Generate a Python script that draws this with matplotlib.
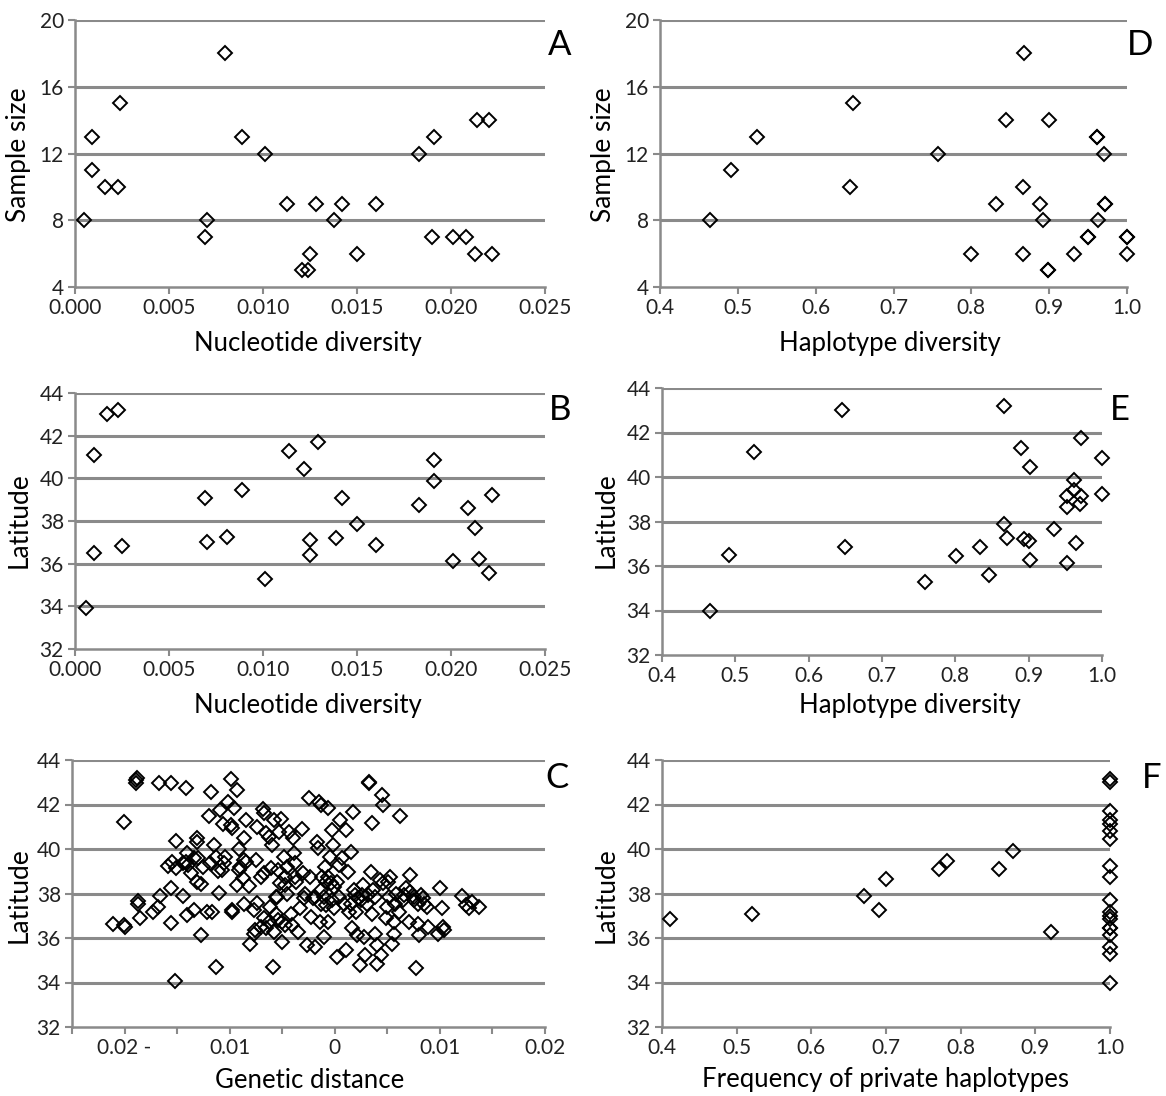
import numpy as np
import matplotlib
matplotlib.use("Agg")
import matplotlib.pyplot as plt
from matplotlib.ticker import FixedLocator, FuncFormatter

plt.rcParams['font.family'] = ['Lato', 'DejaVu Sans']

# --- A / B : nucleotide diversity ---
nd_a = [0.0005, 0.0009, 0.0009, 0.0016, 0.0023, 0.0024, 0.0069, 0.0070, 0.0080, 0.0089,
        0.0101, 0.0113, 0.0121, 0.0124, 0.0125, 0.0128, 0.0138, 0.0142, 0.0150, 0.0160,
        0.0183, 0.0190, 0.0191, 0.0201, 0.0208, 0.0213, 0.0214, 0.0220, 0.0222]
size_a = [8, 13, 11, 10, 10, 15, 7, 8, 18, 13, 12, 9, 5, 5, 6, 9, 8, 9, 6, 9,
          12, 7, 13, 7, 7, 6, 14, 14, 6]

nd_b = [0.0006, 0.0010, 0.0010, 0.0017, 0.0023, 0.0025, 0.0069, 0.0070, 0.0081, 0.0089,
        0.0101, 0.0114, 0.0122, 0.0125, 0.0125, 0.0129, 0.0139, 0.0142, 0.0150, 0.0160,
        0.0183, 0.0191, 0.0191, 0.0201, 0.0209, 0.0213, 0.0215, 0.0220, 0.0222]
lat_b = [33.94, 41.10, 36.50, 43.00, 43.20, 36.85, 39.10, 37.00, 37.27, 39.46,
         35.27, 41.30, 40.44, 37.10, 36.40, 41.72, 37.20, 39.07, 37.87, 36.88,
         38.77, 40.84, 39.86, 36.12, 38.61, 37.68, 36.23, 35.57, 39.20]

# --- D / E : haplotype diversity ---
hd_d = [0.464, 0.491, 0.525, 0.644, 0.648, 0.757, 0.799, 0.832, 0.845, 0.866,
        0.866, 0.868, 0.888, 0.892, 0.899, 0.899, 0.900, 0.932, 0.950, 0.950,
        0.961, 0.961, 0.963, 0.970, 0.972, 0.972, 1.000, 1.000, 1.000]
size_d = [8, 11, 13, 10, 15, 12, 6, 9, 14, 10, 6, 18, 9, 8, 5, 5, 14, 6, 7, 7,
          13, 13, 8, 12, 9, 9, 7, 7, 6]

hd_e = [0.465, 0.492, 0.526, 0.645, 0.649, 0.758, 0.801, 0.833, 0.846, 0.866,
        0.866, 0.870, 0.890, 0.893, 0.901, 0.902, 0.902, 0.934, 0.952, 0.952,
        0.952, 0.962, 0.962, 0.965, 0.970, 0.972, 0.972, 1.000, 1.000]
lat_e = [33.97, 36.48, 41.14, 42.99, 36.86, 35.28, 36.45, 36.87, 35.58, 43.17,
         37.91, 37.28, 41.31, 37.23, 37.13, 40.47, 36.26, 37.68, 39.13, 38.63,
         36.15, 39.88, 39.43, 37.05, 38.78, 39.13, 41.74, 40.84, 39.23]

# --- F : frequency of private haplotypes ---
priv_f = [0.411, 0.521, 0.670, 0.691, 0.700, 0.771, 0.782, 0.851, 0.870, 0.921,
          1.0, 1.0, 1.0, 1.0, 1.0, 1.0, 1.0, 1.0, 1.0, 1.0,
          1.0, 1.0, 1.0, 1.0, 1.0, 1.0, 1.0, 1.0, 1.0]
lat_f = [36.86, 37.07, 37.91, 37.28, 38.63, 39.11, 39.44, 39.12, 39.89, 36.26,
         43.16, 43.01, 41.72, 41.30, 41.14, 40.82, 40.46, 39.25, 38.75, 37.70,
         37.19, 37.00, 36.47, 36.45, 36.14, 35.60, 35.29, 36.87, 33.97]

# --- C : genetic distance (x 10^-3) vs latitude, pairwise ---
gd_c = [-21.1, -20.1, -20.0, -20.1, -18.8, -18.9, -18.7, -18.7, -18.5, -17.3,
        -16.8, -16.6, -16.7, -15.6, -15.6, -15.6, -15.9, -15.5, -15.2, -15.1,
        -14.4, -14.2, -14.2, -14.4, -14.1, -14.0, -13.7, -13.4, -13.1, -13.1,
        -13.1, -13.0, -12.7, -12.7, -12.5, -12.2, -12.0, -11.9, -11.8, -11.7,
        -11.5, -11.3, -11.3, -11.1, -11.0, -10.9, -10.6, -10.4, -10.2, -9.9,
        -9.9, -9.8, -9.8, -9.6, -9.3, -9.3, -9.1, -9.0, -8.7, -8.6,
        -8.6, -8.4, -8.4, -8.2, -8.1, -7.7, -7.7, -7.6, -7.5, -7.4,
        -7.4, -6.8, -6.7, -6.7, -6.7, -6.5, -6.5, -6.3, -6.2, -6.1,
        -6.0, -5.9, -5.8, -5.8, -5.6, -5.5, -5.4, -5.3, -5.2, -5.1,
        -5.0, -5.0, -4.8, -4.7, -4.5, -4.4, -4.2, -4.1, -4.0, -3.9,
        -3.8, -3.7, -3.5, -3.3, -3.1, -3.0, -2.8, -2.6, -2.5, -2.4,
        -2.3, -2.1, -1.9, -1.7, -1.6, -1.5, -1.4, -1.3, -1.3, -1.2,
        -1.0, -0.9, -0.8, -0.6, -0.6, -0.5, -0.4, -0.3, -0.2, -0.1,
        0.2, 0.4, 0.4, 0.5, 0.7, 0.9, 1.1, 1.1, 1.3, 1.4,
        1.5, 1.6, 1.7, 1.8, 1.9, 2.1, 2.4, 2.5, 2.7, 2.8,
        2.9, 3.2, 3.3, 3.4, 3.5, 3.5, 3.8, 4.0, 4.0, 4.3,
        4.4, 4.5, 4.6, 4.9, 5.0, 5.2, 5.3, 5.4, 5.6, 5.6,
        5.8, 6.1, 6.2, 6.5, 6.8, 7.1, 7.2, 7.5, 7.7, 7.9,
        8.0, 8.2, 8.5, 8.8, 8.9, 9.8, 10.0, 10.2, 10.3, 10.4,
        12.1, 12.5, 12.8, 13.1, 13.7,
        2.2, 2.6, 3.6, 3.8, 3.1, -0.6, -0.8, -0.1, 0.2, -1.3,
        -1.9, -1.0, -0.3, 7.9, 8.4, 7.2, 5.1, 5.7, -8.6, -9.1,
        -10.5, -15.1, -13.4, -5.4, -4.5, -7.0, -5.6, -6.3, -4.7, -7.0,
        -10.7, -14.1, -2.9, 1.5, 2.0, 6.6, 4.6, 7.5, -4.7, -3.8,
        3.3, -18.9, -9.8]
lat_c = [36.65, 36.58, 36.50, 41.23, 43.17, 42.95, 37.67, 37.55, 36.88, 37.18,
         37.40, 37.88, 42.95, 42.95, 36.68, 38.23, 39.23, 39.43, 34.07, 40.37,
         39.35, 39.43, 42.73, 37.88, 37.03, 39.28, 38.90, 37.25, 40.48, 40.33,
         38.53, 39.58, 38.42, 36.13, 39.20, 37.18, 41.48, 39.35, 42.58, 37.18,
         40.18, 39.65, 34.70, 39.00, 38.03, 41.75, 41.12, 39.65, 42.13, 43.13,
         41.08, 37.28, 37.18, 41.83, 42.65, 38.38, 39.98, 39.20, 38.68, 37.55,
         40.48, 41.30, 39.43, 38.33, 35.75, 36.20, 37.25, 36.35, 39.50, 40.97,
         37.58, 41.80, 41.63, 38.90, 36.88, 36.43, 40.70, 40.55, 37.40, 39.13,
         40.18, 34.70, 41.30, 36.28, 37.10, 37.85, 36.80, 40.78, 38.45, 41.33,
         35.83, 36.73, 39.65, 38.75, 38.00, 40.78, 37.10, 36.58, 40.48, 39.80,
         39.35, 38.53, 36.28, 37.33, 40.88, 38.90, 38.00, 35.68, 42.28, 38.75,
         36.95, 37.78, 35.60, 40.33, 40.03, 42.13, 36.73, 38.15, 41.98, 38.75,
         36.05, 39.20, 37.48, 36.73, 41.83, 39.65, 38.45, 40.85, 40.18, 37.33,
         35.15, 37.85, 39.28, 41.30, 39.58, 37.55, 35.45, 40.85, 38.98, 37.18,
         39.88, 36.43, 41.68, 38.15, 37.93, 36.13, 34.78, 37.70, 38.38, 36.05,
         35.23, 37.93, 42.95, 38.98, 41.15, 37.10, 36.20, 35.68, 34.85, 38.60,
         35.23, 42.43, 41.98, 36.88, 37.40, 37.85, 38.75, 35.75, 36.73, 36.20,
         38.00, 37.18, 41.48, 37.70, 38.23, 36.73, 38.83, 37.85, 34.63, 36.65,
         36.13, 37.93, 37.55, 37.40, 36.50, 36.20, 38.23, 37.33, 36.50, 36.38,
         37.88, 37.48, 37.33, 37.63, 37.40,
         37.78, 37.93, 38.15, 37.85, 37.55, 38.75, 38.53, 38.30, 38.53, 37.55,
         37.85, 37.85, 37.70, 37.55, 37.78, 38.08, 38.53, 37.55, 39.50, 39.05,
         39.38, 39.13, 39.58, 39.05, 39.20, 38.75, 37.85, 36.73, 36.58, 36.50,
         39.05, 39.80, 37.78, 37.55, 37.18, 37.93, 38.45, 37.70, 38.38, 38.75,
         43.00, 43.10, 40.95]

W, H = 1166, 1096
fig = plt.figure(figsize=(W / 100, H / 100), dpi=100)
GRID = '#8a8a8a'


def add_panel(left, top, right, bottom):
    return fig.add_axes([left / W, 1 - bottom / H, (right - left) / W, (bottom - top) / H])


def style(ax, xlim, xticks, xfmt, ylim, yticks):
    ax.set_xlim(*xlim)
    ax.set_ylim(*ylim)
    ax.xaxis.set_major_locator(FixedLocator(xticks))
    ax.xaxis.set_major_formatter(xfmt)
    ax.yaxis.set_major_locator(FixedLocator(yticks))
    for y in yticks[1:]:
        ax.axhline(y, color=GRID, lw=2.2, zorder=1)
    for s in ['top', 'right']:
        ax.spines[s].set_visible(False)
    for s in ['left', 'bottom']:
        ax.spines[s].set_color(GRID)
        ax.spines[s].set_linewidth(1.8)
    ax.tick_params(axis='both', direction='out', color=GRID, width=1.5, length=5,
                   labelsize=15, labelcolor='#222222', pad=3)


def scatter(ax, x, y):
    ax.plot(x, y, linestyle='none', marker='D', markersize=7, mfc='none',
            mec='black', mew=1.4, zorder=3, clip_on=False)


fmt3 = FuncFormatter(lambda v, p: f'{v:.3f}')
fmt1 = FuncFormatter(lambda v, p: f'{v:.1f}')
c_labels = {-0.02: '0.02 -', -0.01: '0.01', 0.0: '0', 0.01: '0.01', 0.02: '0.02'}
fmtc = FuncFormatter(lambda v, p: next((t for k, t in c_labels.items() if abs(k - v) < 1e-9), ''))

nd_ticks = [0, 0.005, 0.01, 0.015, 0.02, 0.025]
hd_ticks = [0.4, 0.5, 0.6, 0.7, 0.8, 0.9, 1.0]
size_ticks = [4, 8, 12, 16, 20]
lat_ticks = [32, 34, 36, 38, 40, 42, 44]

axA = add_panel(75, 20, 545, 287)
style(axA, (0, 0.025), nd_ticks, fmt3, (4, 20), size_ticks)
scatter(axA, nd_a, size_a)

axD = add_panel(660, 20, 1127, 287)
style(axD, (0.4, 1.0), hd_ticks, fmt1, (4, 20), size_ticks)
scatter(axD, hd_d, size_d)

axB = add_panel(75, 393, 545, 649)
style(axB, (0, 0.025), nd_ticks, fmt3, (32, 44), lat_ticks)
scatter(axB, nd_b, lat_b)

axE = add_panel(662, 388, 1102, 655)
style(axE, (0.4, 1.0), hd_ticks, fmt1, (32, 44), lat_ticks)
scatter(axE, hd_e, lat_e)

axC = add_panel(72, 760, 545, 1027)
style(axC, (-0.025, 0.02), list(np.arange(-0.025, 0.0201, 0.005)), fmtc, (32, 44), lat_ticks)
scatter(axC, np.array(gd_c) * 1e-3, lat_c)

axF = add_panel(662, 760, 1110, 1027)
style(axF, (0.4, 1.0), hd_ticks, fmt1, (32, 44), lat_ticks)
scatter(axF, priv_f, lat_f)


def ftext(x, y, s, **kw):
    fig.text(x / W, 1 - y / H, s, ha='center', va='center', **kw)


ftext(308, 343, 'Nucleotide diversity', fontsize=18.5)
ftext(890, 343, 'Haplotype diversity', fontsize=18.5)
ftext(308, 705, 'Nucleotide diversity', fontsize=18.5)
ftext(910, 705, 'Haplotype diversity', fontsize=18.5)
ftext(310, 1080, 'Genetic distance', fontsize=18.5)
ftext(885, 1080, 'Frequency of private haplotypes', fontsize=18.5)

ftext(19, 155, 'Sample size', fontsize=19, rotation=90)
ftext(604, 155, 'Sample size', fontsize=19, rotation=90)
ftext(19, 520, 'Latitude', fontsize=19, rotation=90)
ftext(606, 520, 'Latitude', fontsize=19, rotation=90)
ftext(19, 895, 'Latitude', fontsize=19, rotation=90)
ftext(606, 895, 'Latitude', fontsize=19, rotation=90)

for lx, ly, letter in [(560, 45, 'A'), (1140, 45, 'D'), (560, 410, 'B'),
                       (1120, 410, 'E'), (557, 778, 'C'), (1152, 778, 'F')]:
    ftext(lx, ly, letter, fontsize=25)

fig.savefig('out.png', dpi=100, facecolor='white')
